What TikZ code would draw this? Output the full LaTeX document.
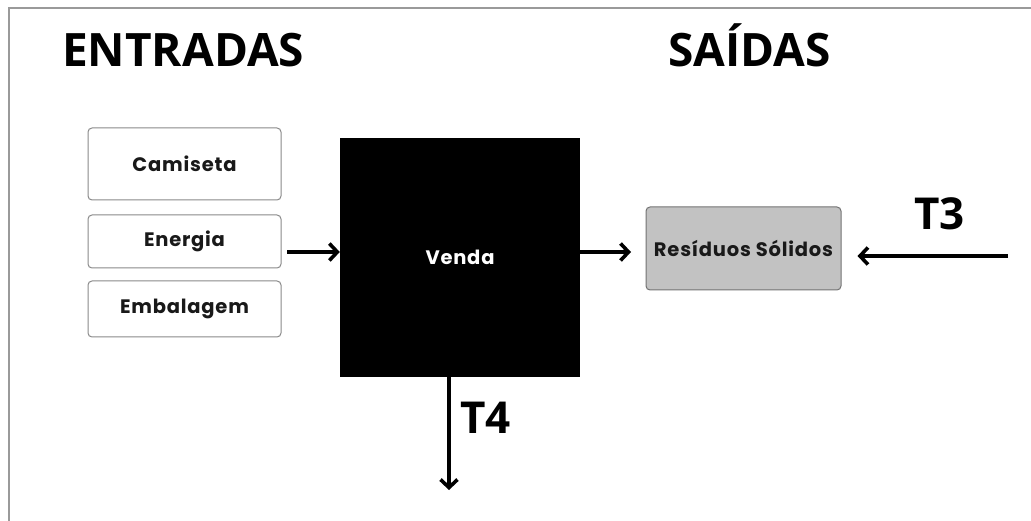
\documentclass[tikz,border=0pt]{standalone}
\usepackage{fontspec}
\usetikzlibrary{arrows.meta}
\newfontfamily\headfont{Open Sans}
\newfontfamily\boxfont{Poppins}[LetterSpace=4]
\definecolor{framegray}{HTML}{9A9A9A}
\definecolor{boxline}{HTML}{8A8A8A}
\definecolor{resfill}{HTML}{C2C2C2}
\tikzset{
  head/.style={font=\headfont\bfseries\fontsize{46}{50}\selectfont, inner sep=0pt, anchor=base west},
  tlabel/.style={font=\headfont\bfseries\fontsize{44}{48}\selectfont, inner sep=0pt, anchor=base west},
  boxtext/.style={font=\boxfont\bfseries\fontsize{19.5}{22}\selectfont},
  inbox/.style={draw=boxline, line width=1pt, rounded corners=4pt, fill=white, boxtext, text=black!90},
  arr/.style={line width=3.6pt, -{Straight Barb[length=8pt,width=17pt,line width=3.6pt]}},
}
\begin{document}
\begin{tikzpicture}[x=1pt,y=-1pt]
\useasboundingbox (0,0) rectangle (1031,521);
\fill[white] (0,0) rectangle (1031,521);
\draw[framegray, line width=2pt] (9,521) -- (9,8) -- (1031,8);

\node[head] (entradas) at (62,67) {ENTRADAS};
\node[head] (saidas) at (668,67) {SAÍDAS};

\node[inbox, minimum width=193pt, minimum height=72pt] (camiseta) at (184.5,164) {Camiseta};
\node[inbox, minimum width=193pt, minimum height=53pt] (energia) at (184.5,241.5) {Energia};
\node[inbox, minimum width=193pt, minimum height=56pt] (embalagem) at (184.5,309) {Embalagem};

\node[fill=black, minimum width=240pt, minimum height=239pt, inner sep=0pt,
  boxtext, text=white] (venda) at (460,257.5) {Venda};

\node[inbox, fill=resfill, draw=black!55, minimum width=195pt, minimum height=83pt] (residuos) at (743.5,248.5) {Resíduos Sólidos};

\coordinate (inA) at (287,252);
\draw[arr] (inA) -- (inA -| venda.west);

\coordinate (outA) at (631,252);
\draw[arr] (outA -| venda.east) -- (outA);

\coordinate (t3start) at (1008,256);
\draw[arr] (t3start) -- ([xshift=16pt]t3start -| residuos.east);
\node[tlabel] (t3) at (914,230) {T3};

\coordinate (t4end) at (449,490);
\draw[arr] (t4end |- venda.south) -- (t4end);
\node[tlabel] (t4) at (460,433) {T4};
\end{tikzpicture}
\end{document}
